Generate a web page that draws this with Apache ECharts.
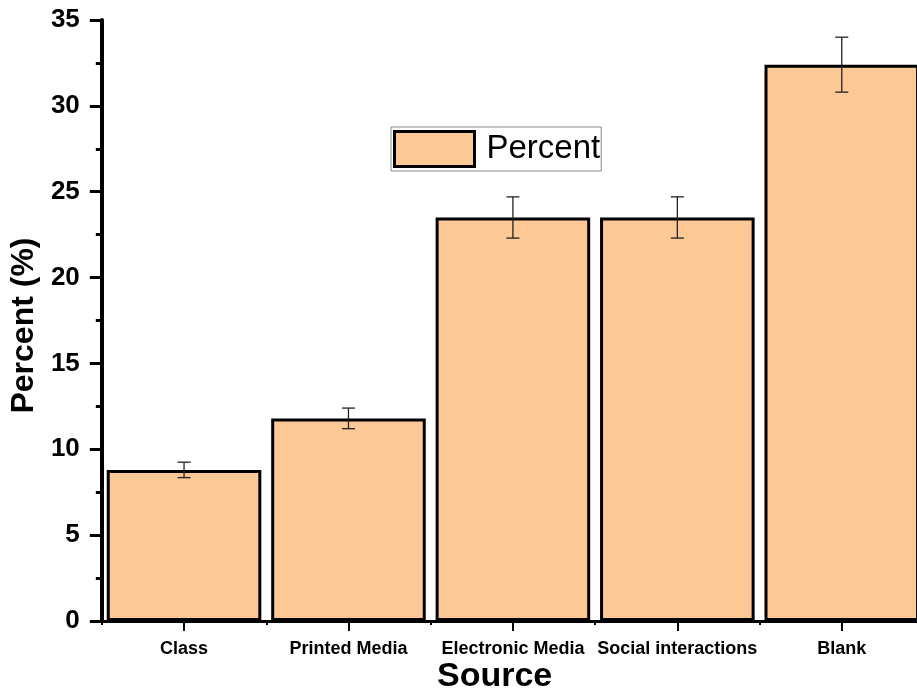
<!DOCTYPE html>
<html>
<head>
<meta charset="utf-8">
<script src="https://cdn.jsdelivr.net/npm/echarts@6/dist/echarts.min.js"></script>
<style>html,body{margin:0;padding:0;background:#fff;overflow:hidden}#c{width:924px;height:693px}</style>
</head>
<body>
<div id="c"></div>
<script>
var categories = ['Class', 'Printed Media', 'Electronic Media', 'Social interactions', 'Blank'];
var percent = [8.8, 11.8, 23.5, 23.5, 32.4];
var errors = [0.45, 0.6, 1.2, 1.2, 1.6];
var yTicks = [0, 5, 10, 15, 20, 25, 30, 35];

var FONT = 'Arial, "Liberation Sans", sans-serif';
var chart = echarts.init(document.getElementById('c'));
var errData = percent.map(function (v, i) { return [i, v - errors[i], v + errors[i]]; });

chart.setOption({
  animation: false,
  backgroundColor: '#fff',
  grid: { left: 99, top: 20, right: 0, bottom: 72, containLabel: false },
  legend: {
    data: ['Percent'],
    left: 391, top: 127,
    orient: 'horizontal',
    itemWidth: 80, itemHeight: 35,
    padding: [3, 1, 3, 2],
    borderColor: '#888', borderWidth: 1,
    icon: 'rect',
    itemStyle: { borderColor: '#000', borderWidth: 3 },
    textStyle: { fontFamily: FONT, fontSize: 33, color: '#000', padding: [0, 0, 0, 7] }
  },
  xAxis: [{
    type: 'category',
    data: categories,
    position: 'bottom',
    axisLine: { show: true, lineStyle: { color: '#000', width: 3 } },
    axisTick: { show: true, alignWithLabel: true, length: 10, lineStyle: { color: '#000', width: 2 } },
    axisLabel: { interval: 0, margin: 19, color: '#000', fontFamily: FONT, fontWeight: 'bold', fontSize: 18 },
    splitLine: { show: false }
  }, {
    type: 'category',
    data: categories,
    position: 'bottom',
    axisLine: { show: false },
    axisTick: { show: true, alignWithLabel: false, length: 4, lineStyle: { color: '#000', width: 2 } },
    axisLabel: { show: false },
    splitLine: { show: false }
  }],
  yAxis: {
    type: 'value',
    min: 0, max: 35, interval: 5,
    name: 'Percent (%)',
    nameLocation: 'middle',
    nameGap: 52,
    nameTextStyle: { fontFamily: FONT, fontWeight: 'bold', fontSize: 32, color: '#000', padding: [0, 10, 0, 0] },
    axisLine: { show: true, lineStyle: { color: '#000', width: 4 } },
    axisTick: { show: true, inside: false, length: 12, lineStyle: { color: '#000', width: 3 } },
    minorTick: { show: true, splitNumber: 2, length: 6, lineStyle: { color: '#000', width: 3 } },
    axisLabel: {
      margin: 22, color: '#000', fontFamily: FONT, fontWeight: 'bold', fontSize: 26,
      formatter: function (v) { return yTicks.indexOf(v) >= 0 ? String(v) : ''; }
    },
    splitLine: { show: false }
  },
  graphic: [{
    type: 'text',
    left: 437, top: 660,
    style: { text: 'Source', fontFamily: FONT, fontWeight: 'bold', fontSize: 34, fill: '#000' }
  }],
  series: [{
    name: 'Percent',
    type: 'bar',
    xAxisIndex: 0,
    data: percent,
    barWidth: '94%',
    itemStyle: { color: '#FBC896', borderColor: '#000', borderWidth: 3 },
    z: 2
  }, {
    name: 'err',
    type: 'custom',
    xAxisIndex: 0,
    data: errData,
    encode: { x: 0, y: [1, 2] },
    z: 5,
    renderItem: function (params, api) {
      var x = api.value(0);
      var lo = api.coord([x, api.value(1)]);
      var hi = api.coord([x, api.value(2)]);
      var hw = 6.5;
      var st = { stroke: '#222', lineWidth: 1.3 };
      return {
        type: 'group',
        children: [
          { type: 'line', shape: { x1: lo[0], y1: lo[1], x2: hi[0], y2: hi[1] }, style: st },
          { type: 'line', shape: { x1: lo[0] - hw, y1: lo[1], x2: lo[0] + hw, y2: lo[1] }, style: st },
          { type: 'line', shape: { x1: hi[0] - hw, y1: hi[1], x2: hi[0] + hw, y2: hi[1] }, style: st }
        ]
      };
    }
  }]
});
</script>
</body>
</html>
